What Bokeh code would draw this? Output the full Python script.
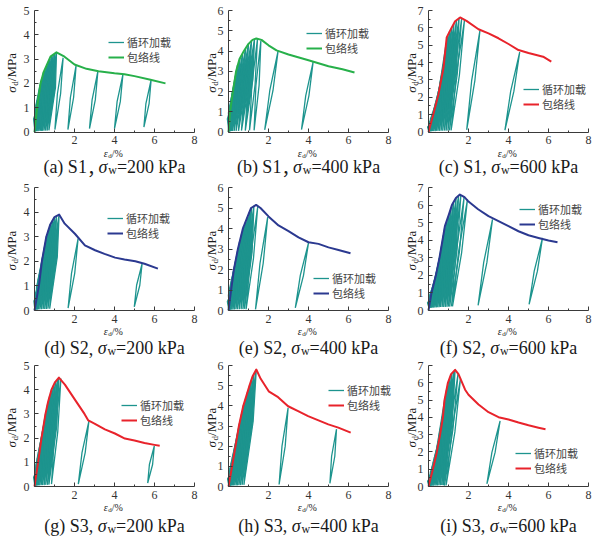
import math
from bokeh.plotting import figure
from bokeh.models import Label, Legend, LegendItem, Range1d, FixedTicker, LinearAxis
from bokeh.layouts import gridplot
from bokeh.embed import file_html
from bokeh.resources import INLINE

# ---------------- data (strain %, stress MPa) ----------------
# (a) S1, 200 kPa
a_env_e = [0, 0.13, 0.3, 0.45, 0.6, 0.8, 1.1, 1.5, 2.0, 2.6, 3.2, 4.0, 4.5, 5.0, 5.8, 6.55]
a_env_s = [0, 1.0, 2.0, 2.45, 2.73, 3.1, 3.28, 3.1, 2.78, 2.6, 2.5, 2.42, 2.38, 2.3, 2.15, 2.0]
a_top_e = [0.12, 0.2, 0.28, 0.36, 0.45, 0.53, 0.62, 0.7, 0.78, 0.86, 0.94, 1.02, 1.1, 1.43, 2.08, 3.17, 4.42, 5.83]
a_top_s = [0.95, 1.5, 1.95, 2.2, 2.45, 2.6, 2.75, 2.9, 3.02, 3.12, 3.2, 3.25, 3.28, 3.05, 2.74, 2.5, 2.36, 2.14]
a_bot_e = [0.02, 0.05, 0.08, 0.12, 0.17, 0.22, 0.28, 0.34, 0.4, 0.47, 0.55, 0.63, 0.72, 1.02, 1.67, 2.75, 4.0, 5.47]
a_bot_s = [0.03, 0.03, 0.04, 0.04, 0.04, 0.05, 0.05, 0.05, 0.05, 0.06, 0.06, 0.06, 0.07, 0.1, 0.1, 0.14, 0.14, 0.2]

# (b) S1, 400 kPa
b_env_e = [0, 0.08, 0.22, 0.38, 0.55, 0.77, 1.0, 1.2, 1.39, 1.65, 2.0, 2.4, 3.0, 4.0, 5.0, 5.7, 6.3]
b_env_s = [0, 1.0, 2.0, 3.0, 3.6, 4.0, 4.35, 4.55, 4.62, 4.55, 4.28, 4.03, 3.83, 3.54, 3.25, 3.1, 2.94]
b_top_e = [0.1, 0.18, 0.26, 0.35, 0.45, 0.57, 0.7, 0.85, 1.0, 1.15, 1.3, 1.45, 1.62, 2.48, 4.23]
b_top_s = [1.15, 1.7, 2.25, 2.8, 3.3, 3.65, 3.85, 4.1, 4.35, 4.5, 4.6, 4.6, 4.52, 4.0, 3.45]
b_bot_e = [0.02, 0.04, 0.07, 0.1, 0.14, 0.2, 0.28, 0.38, 0.5, 0.65, 0.84, 1.05, 1.28, 1.81, 3.65]
b_bot_s = [0.03, 0.03, 0.04, 0.04, 0.05, 0.05, 0.05, 0.06, 0.06, 0.07, 0.07, 0.08, 0.08, 0.1, 0.12]

# (c) S1, 600 kPa
c_env_e = [0, 0.22, 0.5, 0.75, 0.91, 1.08, 1.33, 1.58, 1.9, 2.5, 3.0, 3.5, 4.0, 4.5, 5.0, 5.73, 6.14]
c_env_s = [0, 0.92, 2.18, 3.7, 5.45, 5.84, 6.38, 6.6, 6.4, 5.92, 5.68, 5.4, 5.07, 4.72, 4.55, 4.34, 4.05]
c_top_e = [0.12, 0.22, 0.32, 0.42, 0.52, 0.62, 0.72, 0.8, 0.88, 0.96, 1.05, 1.15, 1.27, 1.4, 1.53, 1.66, 1.8, 2.57, 4.56]
c_top_s = [0.5, 0.92, 1.35, 1.8, 2.3, 2.9, 3.5, 4.2, 5.1, 5.55, 5.78, 6.0, 6.25, 6.45, 6.57, 6.55, 6.45, 5.84, 4.6]
c_bot_e = [0.02, 0.05, 0.09, 0.14, 0.2, 0.26, 0.33, 0.4, 0.47, 0.55, 0.63, 0.71, 0.8, 0.88, 0.97, 1.05, 1.13, 1.91, 3.82]
c_bot_s = [0.03, 0.03, 0.04, 0.04, 0.05, 0.05, 0.05, 0.06, 0.06, 0.06, 0.07, 0.07, 0.08, 0.08, 0.08, 0.09, 0.09, 0.12, 0.1]

# (d) S2, 200 kPa
d_env_e = [0, 0.22, 0.37, 0.59, 0.79, 1.0, 1.23, 1.51, 2.02, 2.52, 3.03, 3.5, 4.03, 4.5, 5.04, 5.5, 6.17]
d_env_s = [0, 1.0, 2.0, 3.0, 3.5, 3.8, 3.9, 3.53, 3.12, 2.65, 2.45, 2.3, 2.15, 2.07, 2.0, 1.9, 1.7]
d_top_e = [0.15, 0.25, 0.33, 0.42, 0.5, 0.6, 0.7, 0.8, 0.9, 1.0, 1.1, 1.23, 2.18, 5.38]
d_top_s = [0.68, 1.2, 1.73, 2.23, 2.6, 3.02, 3.27, 3.51, 3.66, 3.8, 3.85, 3.9, 2.92, 1.9]
d_bot_e = [0.02, 0.05, 0.09, 0.14, 0.2, 0.27, 0.35, 0.43, 0.51, 0.59, 0.67, 0.76, 1.68, 4.99]
d_bot_s = [0.03, 0.03, 0.04, 0.04, 0.05, 0.05, 0.05, 0.06, 0.06, 0.06, 0.07, 0.07, 0.1, 0.15]

# (e) S2, 400 kPa
e_env_e = [0, 0.13, 0.27, 0.47, 0.72, 0.92, 1.13, 1.38, 1.6, 2.0, 2.5, 3.0, 3.5, 4.0, 4.5, 5.0, 5.5, 6.1]
e_env_s = [0, 1.0, 2.0, 3.0, 4.0, 4.5, 5.0, 5.15, 5.0, 4.59, 4.15, 3.87, 3.57, 3.33, 3.25, 3.08, 2.95, 2.79]
e_top_e = [0.1, 0.18, 0.26, 0.35, 0.45, 0.55, 0.65, 0.75, 0.85, 0.95, 1.05, 1.15, 1.27, 1.46, 1.96, 4.0]
e_top_s = [0.77, 1.35, 1.93, 2.4, 2.9, 3.35, 3.72, 4.1, 4.33, 4.55, 4.8, 5.03, 5.1, 5.05, 4.55, 3.3]
e_bot_e = [0.02, 0.04, 0.07, 0.11, 0.16, 0.22, 0.29, 0.37, 0.45, 0.54, 0.63, 0.72, 0.8, 0.88, 1.35, 3.34]
e_bot_s = [0.03, 0.03, 0.04, 0.04, 0.05, 0.05, 0.05, 0.06, 0.06, 0.06, 0.07, 0.07, 0.08, 0.06, 0.06, 0.13]

# (f) S2, 600 kPa
f_env_e = [0, 0.15, 0.37, 0.55, 0.7, 0.82, 1.03, 1.17, 1.37, 1.57, 1.8, 2.0, 2.48, 3.0, 3.5, 4.0, 4.5, 5.0, 5.5, 6.0, 6.45]
f_env_s = [0, 1.0, 2.0, 3.0, 4.0, 4.8, 5.5, 6.0, 6.4, 6.6, 6.45, 6.2, 5.76, 5.37, 5.09, 4.8, 4.51, 4.28, 4.13, 3.98, 3.88]
f_top_e = [0.1, 0.18, 0.26, 0.34, 0.42, 0.5, 0.58, 0.66, 0.74, 0.82, 0.92, 1.02, 1.13, 1.25, 1.38, 1.5, 1.62, 1.78, 1.95, 3.2, 5.7]
f_top_s = [0.67, 1.14, 1.5, 1.86, 2.28, 2.72, 3.2, 3.73, 4.27, 4.8, 5.13, 5.47, 5.86, 6.16, 6.41, 6.53, 6.58, 6.45, 6.33, 5.18, 4.13]
f_bot_e = [0.03, 0.06, 0.1, 0.15, 0.2, 0.26, 0.32, 0.39, 0.46, 0.53, 0.6, 0.68, 0.76, 0.84, 0.92, 1.0, 1.06, 1.15, 1.2, 2.48, 5.03]
f_bot_s = [0.15, 0.15, 0.16, 0.16, 0.17, 0.17, 0.18, 0.18, 0.19, 0.19, 0.2, 0.2, 0.2, 0.21, 0.21, 0.22, 0.22, 0.23, 0.23, 0.29, 0.35]

# (g) S3, 200 kPa
g_env_e = [0, 0.18, 0.35, 0.55, 0.68, 0.85, 1.02, 1.22, 1.52, 2.02, 2.5, 2.69, 3.0, 3.52, 4.02, 4.52, 5.0, 5.5, 6.0, 6.26]
g_env_s = [0, 1.0, 2.0, 3.0, 3.5, 4.0, 4.3, 4.5, 4.21, 3.59, 3.0, 2.73, 2.6, 2.36, 2.19, 1.98, 1.9, 1.8, 1.72, 1.68]
g_top_e = [0.12, 0.2, 0.28, 0.36, 0.45, 0.55, 0.65, 0.75, 0.85, 0.95, 1.05, 1.15, 1.22, 1.32, 2.72, 5.99]
g_top_s = [0.67, 1.12, 1.59, 2.05, 2.5, 3.0, 3.38, 3.71, 4.0, 4.18, 4.33, 4.43, 4.5, 4.46, 2.7, 1.68]
g_bot_e = [0.02, 0.04, 0.07, 0.11, 0.15, 0.2, 0.26, 0.33, 0.4, 0.48, 0.56, 0.65, 0.72, 0.85, 2.19, 5.66]
g_bot_s = [0.03, 0.03, 0.04, 0.04, 0.05, 0.05, 0.05, 0.06, 0.06, 0.06, 0.07, 0.07, 0.08, 0.1, 0.1, 0.14]

# (h) S3, 400 kPa
h_env_e = [0, 0.18, 0.35, 0.52, 0.74, 1.05, 1.2, 1.39, 1.61, 2.01, 2.48, 2.98, 3.48, 3.98, 4.5, 4.99, 5.49, 6.11]
h_env_s = [0, 1.0, 2.0, 3.0, 4.0, 5.0, 5.45, 5.8, 5.34, 4.72, 4.43, 3.98, 3.74, 3.49, 3.28, 3.08, 2.92, 2.67]
h_top_e = [0.12, 0.2, 0.28, 0.36, 0.45, 0.55, 0.65, 0.75, 0.85, 0.95, 1.05, 1.15, 1.27, 1.39, 2.98, 5.4]
h_top_s = [0.67, 1.12, 1.59, 2.06, 2.59, 3.14, 3.59, 4.03, 4.35, 4.68, 5.0, 5.3, 5.58, 5.8, 3.9, 2.84]
h_bot_e = [0.02, 0.04, 0.07, 0.1, 0.14, 0.19, 0.25, 0.31, 0.38, 0.45, 0.52, 0.6, 0.68, 0.77, 2.53, 5.07]
h_bot_s = [0.03, 0.03, 0.04, 0.04, 0.05, 0.05, 0.05, 0.06, 0.06, 0.06, 0.07, 0.07, 0.08, 0.08, 0.1, 0.16]

# (i) S3, 600 kPa
i_env_e = [0, 0.22, 0.42, 0.58, 0.72, 0.8, 0.97, 1.13, 1.33, 1.5, 1.83, 2.0, 2.5, 3.0, 3.5, 4.0, 4.5, 5.0, 5.5, 5.85]
i_env_s = [0, 1.0, 2.0, 3.0, 4.0, 5.0, 6.0, 6.5, 6.75, 6.5, 5.6, 5.31, 4.74, 4.3, 4.01, 3.88, 3.7, 3.54, 3.4, 3.31]
i_top_e = [0.12, 0.22, 0.32, 0.42, 0.5, 0.58, 0.66, 0.74, 0.82, 0.9, 0.98, 1.07, 1.17, 1.27, 1.33, 1.48, 1.6, 3.58]
i_top_s = [0.55, 1.0, 1.5, 2.0, 2.5, 3.0, 3.43, 4.25, 5.12, 5.59, 6.03, 6.31, 6.55, 6.68, 6.75, 6.55, 6.25, 3.79]
i_bot_e = [0.02, 0.05, 0.08, 0.12, 0.16, 0.21, 0.26, 0.32, 0.38, 0.45, 0.52, 0.59, 0.66, 0.72, 0.75, 0.8, 0.88, 2.92]
i_bot_s = [0.03, 0.03, 0.04, 0.04, 0.05, 0.05, 0.05, 0.06, 0.06, 0.06, 0.07, 0.07, 0.08, 0.08, 0.08, 0.05, 0.07, 0.15]

y_max = [5, 6, 7, 5, 6, 7, 5, 6, 7]
x_ticks = [2, 4, 6, 8]
cap_tag = ["(a) S1", "(b) S1", "(c) S1", "(d) S2", "(e) S2", "(f) S2", "(g) S3", "(h) S3", "(i) S3"]
cap_sep = ["，", "，", ",", ",", ",", ",", ",", ",", ","]
cap_val = ["=200 kPa", "=400 kPa", "=600 kPa"] * 3
legend_labels = ["循环加载", "包络线"]

# ---------------- styles / layout ----------------
TEAL = "#1d948e"
GREEN = "#27b04a"
RED = "#e8232b"
NAVY = "#2b3990"
env_color = [GREEN, GREEN, RED, NAVY, NAVY, NAVY, RED, RED, RED]
# legend: glyph left x, row-1 centre y, row-2 centre y (page pixels)
LEG = [(108, 42, 57), (306, 33.5, 48.5), (523, 89, 104), (107, 218, 233), (313, 278.5, 293.5),
       (519, 209, 224), (121, 405.5, 420.5), (328, 390.5, 405.5), (515, 453, 468)]

FIG_X = [0, 200, 396]
COL_W = [200, 196, 198]
OX = [34, 28, 32]          # y-axis position inside each figure (px)
FW = 160                   # plot width for 0..8 (px)
YLAB_DX = [-23, -17, -17]  # centre of rotated y label, from the y axis
FIG_Y = [0, 179, 358]
ROW_H = [179, 179, 179]
OY = [47.5, 48, 51]        # x-axis height above figure bottom (px)
FH = [121.5, 123, 121]     # plot height (px)
CAP_Y = [13, 10.5, 12]     # caption centre above figure bottom (px)

SERIF = "Liberation Serif"
CJK = "Noto Sans CJK SC"
LEG_FS = 11
LEG_H = LEG_FS * 1.45

TIMES = {'(': 333, ')': 333, 'a': 444, 'b': 500, 'c': 444, 'd': 500, 'e': 444, 'f': 333,
         'g': 500, 'h': 500, 'i': 278, ' ': 250, 'S': 556, '1': 500, '2': 500, '3': 500,
         '4': 500, '6': 500, '0': 500, ',': 250, '=': 564, 'k': 500, 'P': 556, 'w': 722,
         '，': 650, 'M': 889, '/': 278, '%': 833, 'σ': 540, 'ε': 440}


def tw(s, size):
    return sum(TIMES.get(ch, 500) for ch in s) / 1000.0 * size


def lab(p, x, y, text, size, style="normal", angle=0.0, color="#1a1a1a", font=SERIF):
    p.add_layout(Label(x=x, y=y, x_units="screen", y_units="screen", text=text,
                       text_font=font, text_font_size=f"{size}px", text_font_style=style,
                       angle=angle, text_align="left", text_baseline="middle",
                       text_color=color))


env_e_all = [a_env_e, b_env_e, c_env_e, d_env_e, e_env_e, f_env_e, g_env_e, h_env_e, i_env_e]
env_s_all = [a_env_s, b_env_s, c_env_s, d_env_s, e_env_s, f_env_s, g_env_s, h_env_s, i_env_s]
top_e_all = [a_top_e, b_top_e, c_top_e, d_top_e, e_top_e, f_top_e, g_top_e, h_top_e, i_top_e]
top_s_all = [a_top_s, b_top_s, c_top_s, d_top_s, e_top_s, f_top_s, g_top_s, h_top_s, i_top_s]
bot_e_all = [a_bot_e, b_bot_e, c_bot_e, d_bot_e, e_bot_e, f_bot_e, g_bot_e, h_bot_e, i_bot_e]
bot_s_all = [a_bot_s, b_bot_s, c_bot_s, d_bot_s, e_bot_s, f_bot_s, g_bot_s, h_bot_s, i_bot_s]

figs = []
for k in range(9):
    r, c = divmod(k, 3)
    W, H = COL_W[c], ROW_H[r]
    ox, oy, fh = OX[c], OY[r], FH[r]
    ymax = y_max[k]
    pxu = FW / 8.0
    pyu = fh / ymax
    p = figure(width=W, height=H,
               x_range=Range1d(-ox / pxu, (W - ox) / pxu),
               y_range=Range1d(-oy / pyu, (H - oy) / pyu),
               x_axis_location=None, y_axis_location=None,
               output_backend="svg", toolbar_location=None,
               min_border=0, min_border_left=0, min_border_right=0,
               min_border_top=0, min_border_bottom=0)
    p.outline_line_color = None
    p.grid.visible = False
    p.background_fill_color = "white"
    p.border_fill_color = "white"

    xa = LinearAxis(fixed_location=0, bounds=(0, 8),
                    ticker=FixedTicker(ticks=x_ticks, minor_ticks=[1, 3, 5, 7]))
    ya = LinearAxis(fixed_location=0, bounds=(0, ymax),
                    ticker=FixedTicker(ticks=list(range(ymax + 1)),
                                       minor_ticks=[j + 0.5 for j in range(ymax)]))
    for ax, so in ((xa, 4), (ya, 5)):
        ax.axis_line_color = "#3a3a3a"
        ax.major_tick_line_color = "#3a3a3a"
        ax.minor_tick_line_color = "#3a3a3a"
        ax.major_tick_in = 4
        ax.major_tick_out = 0
        ax.minor_tick_in = 2
        ax.minor_tick_out = 0
        ax.major_label_text_font = SERIF
        ax.major_label_text_font_size = "12px"
        ax.major_label_text_color = "#333333"
        ax.major_label_standoff = so
    p.add_layout(xa, "below")
    p.add_layout(ya, "left")

    # cyclic loops (narrow hysteresis lenses between unloading end and envelope point)
    env_e, env_s = env_e_all[k], env_s_all[k]
    peak_e = env_e[env_s.index(max(env_s))]
    fill_xs, fill_ys, line_xs, line_ys = [], [], [], []
    for te, ts, be, bs in zip(top_e_all[k], top_s_all[k], bot_e_all[k], bot_s_all[k]):
        pre = te <= peak_e + 0.01
        w = 0.12 if pre else 0.08
        fr = 0.55 if pre else 0.5
        me, ms = be + (te - be) * fr, bs + (ts - bs) * fr
        xs = [be, me - w, te, me + w, be]
        ys = [bs, ms, ts, ms, bs]
        line_xs.append(xs)
        line_ys.append(ys)
        if pre:
            fill_xs.append(xs)
            fill_ys.append(ys)
    p.patches(fill_xs, fill_ys, fill_color=TEAL, fill_alpha=1.0, line_color=None)
    cyc = p.multi_line(line_xs, line_ys, line_color=TEAL, line_width=1.3)
    env = p.line(env_e, env_s, line_color=env_color[k], line_width=2, line_join="round")

    # legend: two one-row legends positioned independently
    gx, cy1, cy2 = LEG[k]
    fig_bottom = FIG_Y[r] + H
    for lbl, rend, cy in ((legend_labels[0], cyc, cy1), (legend_labels[1], env, cy2)):
        leg = Legend(items=[LegendItem(label=lbl, renderers=[rend])],
                     location=(gx - FIG_X[c], fig_bottom - cy - LEG_H / 2.0),
                     background_fill_alpha=0, border_line_alpha=0, padding=0, margin=0,
                     spacing=0, glyph_width=16, glyph_height=12, label_height=12,
                     label_standoff=3, label_text_font=CJK,
                     label_text_font_size=f"{LEG_FS}px", label_text_color="#444444")
        p.add_layout(leg, "center")

    # y axis label: sigma_d /MPa (rotated)
    s1, s2, s3 = "σ", "d", " /MPa"
    ys1, ys2 = 13, 9
    L = tw(s1, ys1) + tw(s2, ys2) + tw(s3, ys1)
    y0 = oy + fh / 2.0 - L / 2.0
    xb = ox + YLAB_DX[c]
    lab(p, xb, y0, s1, ys1, "italic", math.pi / 2)
    lab(p, xb + 3, y0 + tw(s1, ys1), s2, ys2, "normal", math.pi / 2)
    lab(p, xb, y0 + tw(s1, ys1) + tw(s2, ys2), s3, ys1, "normal", math.pi / 2)

    # x axis label: epsilon_d /%
    e1, e2, e3 = "ε", "d", " /%"
    L = tw(e1, 10) + tw(e2, 7) + tw(e3, 10)
    x0 = ox + FW / 2.0 - L / 2.0
    yb = oy - 21
    lab(p, x0, yb, e1, 10, "italic")
    lab(p, x0 + tw(e1, 10), yb - 2.5, e2, 7)
    lab(p, x0 + tw(e1, 10) + tw(e2, 7), yb, e3, 10)

    # caption
    fs, ss = 18, 12
    t1, tsep, t4 = cap_tag[k], cap_sep[k], cap_val[k]
    sep_w = tw(tsep, fs) + (0 if tsep == "，" else tw(" ", fs))
    L = tw(t1, fs) + sep_w + tw("σ", fs) + tw("w", ss) + tw(t4, fs)
    x0 = ox + FW / 2.0 - L / 2.0
    yb = CAP_Y[r]
    lab(p, x0, yb, t1, fs)
    xs_ = x0 + tw(t1, fs)
    lab(p, xs_, yb, tsep, fs, font=(CJK if tsep == "，" else SERIF))
    x1 = xs_ + sep_w
    lab(p, x1, yb, "σ", fs, "italic")
    x2 = x1 + tw("σ", fs)
    lab(p, x2, yb - 3, "w", ss)
    x3 = x2 + tw("w", ss)
    lab(p, x3, yb, t4, fs)

    figs.append(p)

grid = gridplot([figs[0:3], figs[3:6], figs[6:9]], toolbar_location=None)
open("out.html", "w").write(file_html(grid, INLINE))
